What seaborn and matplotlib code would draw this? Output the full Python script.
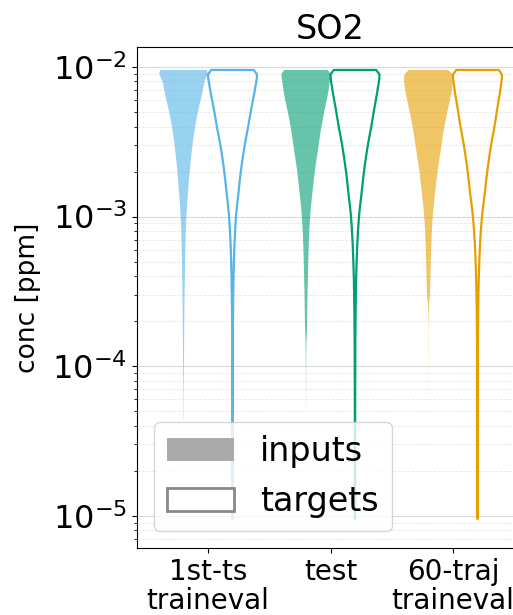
import numpy as np
import pandas as pd
import matplotlib
matplotlib.use("Agg")
import matplotlib.pyplot as plt
import seaborn as sns
from matplotlib.patches import Patch
from matplotlib.collections import PolyCollection
from matplotlib.colors import to_rgba

# ---- data ----
sets = ["1st-ts\ntraineval", "test", "60-traj\ntraineval"]
kinds = ["inputs", "targets"]
set_colors = ["#56B4E9", "#009E73", "#E69F00"]

# concentration levels (log10 ppm), from the top of each violin downwards
log_levels = [-2.02, -2.07, -2.12, -2.17, -2.22, -2.27, -2.32, -2.37, -2.42, -2.47,
              -2.52, -2.57, -2.62, -2.67, -2.72, -2.77, -2.82, -2.87, -2.92, -2.97,
              -3.02, -3.07, -3.12, -3.17, -3.22, -3.27, -3.32, -3.37, -3.42, -3.47,
              -3.52, -3.57, -3.62, -3.67, -3.72, -3.77, -3.82, -3.87, -3.92, -3.97,
              -4.02, -4.07, -4.12, -4.17, -4.22, -4.27, -4.32, -4.37, -4.42, -4.47,
              -4.52, -4.57, -4.62, -4.67, -4.72, -4.77, -4.82, -4.87, -4.92, -4.97,
              -5.02]

# relative frequency at each level
inputs_1st_ts = [1250, 934, 872, 814, 738, 661, 592, 531, 476, 429,
                 387, 349, 314, 282, 253, 227, 203, 179, 155, 134,
                 117, 105, 94, 85, 78, 71, 65, 60, 55, 50,
                 45, 41, 37, 34, 31, 28, 26, 24, 22, 20,
                 18, 15, 12, 10, 8, 7, 6, 5]
targets_1st_ts = [1000, 946, 895, 847, 790, 734, 682, 633, 583, 524,
                  472, 424, 382, 341, 304, 271, 242, 211, 177, 148,
                  125, 107, 92, 78, 67, 58, 50, 43, 37, 32,
                  28, 24, 21, 18, 16, 14, 12, 11, 10, 9,
                  8, 8, 7, 7, 6, 6, 6, 5, 5, 5,
                  5, 5, 4, 4, 4, 4, 4, 4, 4, 4,
                  4]
inputs_test = [1050, 962, 924, 887, 827, 760, 699, 643, 590, 545,
               503, 461, 414, 372, 334, 300, 268, 236, 205, 177,
               154, 139, 124, 112, 103, 94, 86, 79, 73, 66,
               59, 54, 49, 45, 41, 37, 20, 14, 10, 8,
               6, 5, 4, 3, 3, 2]
targets_test = [1000, 952, 906, 862, 809, 756, 707, 660, 611, 552,
                500, 453, 411, 370, 332, 298, 270, 238, 202, 171,
                146, 126, 109, 93, 80, 70, 60, 52, 44, 38,
                34, 29, 25, 22, 19, 17, 14, 13, 12, 11,
                10, 9, 8, 8, 7, 7, 6, 6, 6, 5,
                5, 5, 5, 4, 4, 4, 4, 4, 4, 4,
                4]
inputs_60_traj = [900, 962, 924, 887, 827, 760, 699, 643, 590, 545,
                  503, 461, 414, 372, 334, 300, 268, 236, 205, 177,
                  154, 139, 124, 112, 103, 94, 86, 79, 73, 66,
                  59, 30, 12, 8, 6, 5, 4, 4, 3, 3,
                  3, 2, 2, 2, 1]
targets_60_traj = [1000, 957, 916, 877, 828, 778, 732, 687, 641, 583,
                   531, 485, 444, 403, 365, 331, 301, 267, 228, 194,
                   166, 143, 123, 105, 90, 78, 68, 58, 50, 43,
                   38, 32, 28, 24, 22, 19, 16, 15, 14, 12,
                   11, 10, 9, 9, 8, 8, 7, 7, 6, 6,
                   6, 5, 5, 5, 5, 4, 4, 4, 4, 4,
                   4]

freq_tables = {
    (sets[0], "inputs"): inputs_1st_ts,
    (sets[0], "targets"): targets_1st_ts,
    (sets[1], "inputs"): inputs_test,
    (sets[1], "targets"): targets_test,
    (sets[2], "inputs"): inputs_60_traj,
    (sets[2], "targets"): targets_60_traj,
}

frames = []
for (s, kind), counts in freq_tables.items():
    lv = np.power(10.0, np.array(log_levels[:len(counts)]))
    vals = np.repeat(lv, counts)
    frames.append(pd.DataFrame({"set": s, "kind": kind, "conc": vals}))
df = pd.concat(frames, ignore_index=True)

# ---- figure ----
fig = plt.figure(figsize=(5.13, 6.15), dpi=100)
ax = fig.add_axes([137 / 513, 67 / 615, 387 / 513, 501 / 615])

sns.violinplot(
    data=df, x="set", y="conc", hue="kind", order=sets, hue_order=kinds,
    log_scale=True, cut=0, inner=None, density_norm="width",
    bw_method=lambda k: 0.03 / np.std(k.dataset),
    palette=["#aaaaaa", "#aaaaaa"], saturation=1, linewidth=1.6,
    legend=False, ax=ax,
)

for coll in ax.collections:
    if isinstance(coll, PolyCollection):
        verts = coll.get_paths()[0].vertices
        xc = verts[:, 0].mean()
        i = int(round(xc))
        col = set_colors[i]
        if xc < i:
            coll.set_facecolor(to_rgba(col, 0.6))
            coll.set_edgecolor("none")
        else:
            coll.set_facecolor("none")
            coll.set_edgecolor(col)
            coll.set_linewidth(1.6)

ax.set_ylim(6.1e-6, 1.36e-2)
ax.set_xlim(-0.58, 2.58)
ax.set_xlabel("")
ax.set_ylabel("conc [ppm]", fontsize=19, labelpad=8)
ax.set_title("SO2", fontsize=24)
ax.tick_params(axis="y", labelsize=23)
ax.tick_params(axis="x", labelsize=20)
for lbl in ax.get_xticklabels():
    lbl.set_linespacing(1.05)
ax.yaxis.grid(True, which="major", color="#d9d9d9", lw=0.8)
ax.yaxis.grid(True, which="minor", color="#e6e6e6", lw=0.6, ls="--")
ax.xaxis.grid(False)
ax.set_axisbelow(True)

handles = [
    Patch(facecolor="#aaaaaa", edgecolor="none", label="inputs"),
    Patch(facecolor="white", edgecolor="#888888", linewidth=2, label="targets"),
]
ax.legend(handles=handles, loc="lower left", fontsize=24)

fig.savefig("out.png", dpi=100)
